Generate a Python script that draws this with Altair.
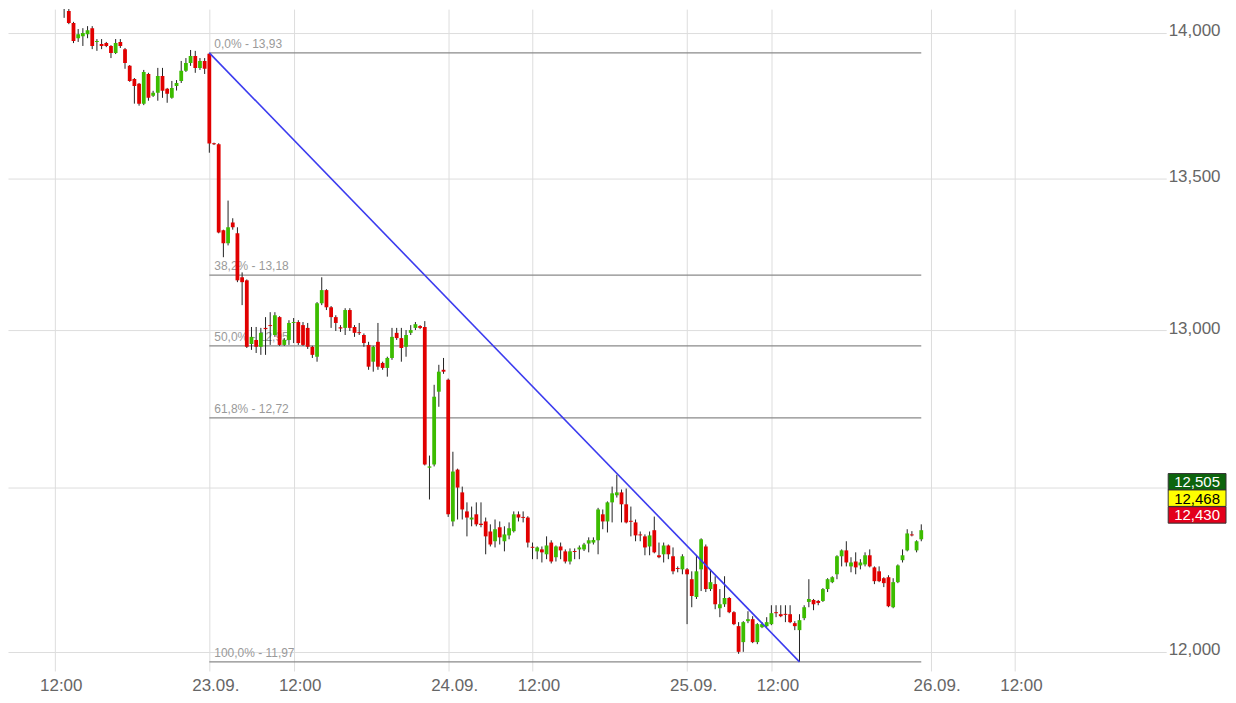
import altair as alt
import pandas as pd

# ---------------- data ----------------
FIRST_INDEX = -37  # candle index of the first candle (23.09. first candle = 0)

opens = [
    # 22.09. (partly above the visible range)
    14.14, 14.16, 14.13, 14.15, 14.14,
    14.13, 14.101, 14.076, 14.034, 13.981, 13.988, 13.995, 14.016, 13.968, 13.961,
    13.964, 13.954, 13.930, 13.968, 13.943, 13.885, 13.840, 13.823, 13.755, 13.857,
    13.782, 13.792, 13.850, 13.806, 13.775, 13.816, 13.833, 13.868, 13.895, 13.919,
    13.878, 13.902,
    # 23.09.
    13.927, 13.620, 13.617, 13.328, 13.285, 13.354, 13.318, 13.173, 13.163, 12.956,
    12.969, 12.947, 13.008, 13.017, 12.985, 13.043, 12.953, 12.969, 13.024, 13.027,
    13.017, 13.008, 12.947, 12.915, 13.088, 13.131, 13.075, 13.043, 13.010, 13.008,
    13.066, 13.011, 12.994, 12.985, 12.953, 12.899, 12.963, 12.895, 12.879, 12.911,
    12.992, 12.975, 12.947, 12.992, 13.008, 13.014, 13.011, 12.563, 12.573, 12.803,
    12.873,
    # 24.09.
    12.841, 12.396, 12.557, 12.486, 12.427, 12.402, 12.418, 12.389, 12.396, 12.365,
    12.335, 12.378, 12.335, 12.353, 12.366, 12.418, 12.410, 12.408, 12.318, 12.304,
    12.310, 12.295, 12.331, 12.286, 12.319, 12.304, 12.273, 12.305, 12.310, 12.310,
    12.328, 12.331, 12.338, 12.418, 12.396, 12.455, 12.477, 12.486, 12.449, 12.398,
    12.393, 12.356, 12.350, 12.319, 12.369, 12.292, 12.295, 12.322, 12.289, 12.253,
    12.249,
    # 25.09.
    12.249, 12.219, 12.165, 12.249, 12.319, 12.189, 12.204, 12.131, 12.143, 12.162,
    12.119, 12.077, 12.029, 12.092, 12.098, 12.029, 12.074, 12.077, 12.083, 12.119,
    12.113, 12.114, 12.113, 12.086, 12.065, 12.101, 12.150, 12.156, 12.153, 12.153,
    12.189, 12.210, 12.234, 12.289, 12.307, 12.258, 12.273, 12.261, 12.264, 12.292,
    12.255, 12.243, 12.222, 12.225, 12.134, 12.210, 12.277, 12.307, 12.356, 12.307,
    12.341,
]

highs = [
    14.18, 14.19, 14.17, 14.18, 14.16,
    14.15, 14.104, 14.104, 14.038, 14.013, 14.016, 14.023, 14.023, 13.978, 13.978,
    13.968, 13.957, 13.978, 13.978, 13.947, 13.888, 13.843, 13.826, 13.871, 13.861,
    13.799, 13.878, 13.878, 13.809, 13.833, 13.836, 13.902, 13.912, 13.940, 13.937,
    13.912, 13.912,
    13.930, 13.622, 13.620, 13.330, 13.427, 13.368, 13.338, 13.189, 13.166, 13.011,
    13.011, 13.008, 13.043, 13.059, 13.059, 13.046, 12.975, 13.033, 13.040, 13.033,
    13.027, 13.024, 12.950, 13.092, 13.173, 13.134, 13.079, 13.049, 13.017, 13.072,
    13.072, 13.017, 13.024, 12.990, 12.963, 12.950, 13.024, 12.899, 12.915, 13.008,
    13.008, 13.008, 13.001, 13.017, 13.027, 13.017, 13.030, 12.601, 12.825, 12.889,
    12.911,
    12.845, 12.613, 12.560, 12.504, 12.455, 12.442, 12.455, 12.455, 12.408, 12.387,
    12.402, 12.396, 12.381, 12.393, 12.427, 12.427, 12.427, 12.412, 12.331, 12.319,
    12.319, 12.350, 12.338, 12.322, 12.331, 12.310, 12.313, 12.313, 12.322, 12.330,
    12.347, 12.347, 12.438, 12.433, 12.458, 12.504, 12.541, 12.495, 12.498, 12.442,
    12.402, 12.365, 12.356, 12.365, 12.411, 12.331, 12.331, 12.325, 12.316, 12.258,
    12.295,
    12.253, 12.243, 12.292, 12.344, 12.325, 12.249, 12.228, 12.189, 12.228, 12.165,
    12.122, 12.089, 12.092, 12.122, 12.107, 12.086, 12.089, 12.104, 12.140, 12.140,
    12.140, 12.140, 12.140, 12.092, 12.113, 12.140, 12.219, 12.159, 12.156, 12.192,
    12.222, 12.228, 12.292, 12.310, 12.335, 12.286, 12.301, 12.280, 12.301, 12.310,
    12.258, 12.258, 12.225, 12.231, 12.222, 12.264, 12.310, 12.372, 12.366, 12.338,
    12.387,
]

lows = [
    14.097, 14.098, 14.12, 14.12, 14.115,
    14.085, 14.052, 14.030, 13.964, 13.968, 13.954, 13.981, 13.943, 13.937, 13.943,
    13.950, 13.912, 13.926, 13.947, 13.875, 13.830, 13.755, 13.748, 13.750, 13.765,
    13.778, 13.765, 13.775, 13.758, 13.772, 13.800, 13.826, 13.864, 13.885, 13.861,
    13.871, 13.857,
    13.588, 13.614, 13.318, 13.239, 13.278, 13.330, 13.157, 13.082, 12.943, 12.937,
    12.927, 12.921, 12.921, 12.953, 12.979, 12.950, 12.950, 12.953, 12.959, 12.953,
    12.950, 12.940, 12.911, 12.899, 13.082, 13.066, 13.008, 12.998, 12.995, 12.985,
    12.998, 12.979, 12.985, 12.947, 12.873, 12.867, 12.873, 12.873, 12.851, 12.905,
    12.969, 12.899, 12.915, 12.985, 13.001, 13.004, 12.570, 12.464, 12.567, 12.755,
    12.860,
    12.410, 12.381, 12.402, 12.402, 12.350, 12.381, 12.381, 12.378, 12.295, 12.319,
    12.316, 12.325, 12.304, 12.341, 12.362, 12.396, 12.393, 12.316, 12.280, 12.280,
    12.270, 12.280, 12.267, 12.273, 12.280, 12.267, 12.264, 12.280, 12.280, 12.305,
    12.301, 12.325, 12.295, 12.372, 12.362, 12.393, 12.470, 12.393, 12.390, 12.350,
    12.335, 12.335, 12.292, 12.292, 12.298, 12.283, 12.270, 12.280, 12.234, 12.240,
    12.234,
    12.083, 12.134, 12.159, 12.183, 12.180, 12.183, 12.128, 12.104, 12.135, 12.116,
    12.080, 11.994, 12.000, 12.086, 12.026, 12.023, 12.071, 12.074, 12.080, 12.104,
    12.104, 12.089, 12.086, 12.065, 11.970, 12.095, 12.134, 12.125, 12.140, 12.150,
    12.180, 12.207, 12.219, 12.258, 12.258, 12.240, 12.234, 12.249, 12.258, 12.255,
    12.204, 12.210, 12.195, 12.134, 12.131, 12.207, 12.270, 12.304, 12.350, 12.301,
    12.335,
]

closes = [
    14.16, 14.13, 14.15, 14.14, 14.13,
    14.090, 14.087, 14.034, 13.971, 13.995, 13.999, 14.009, 13.954, 13.971, 13.954,
    13.954, 13.930, 13.964, 13.954, 13.895, 13.833, 13.816, 13.755, 13.864, 13.775,
    13.792, 13.850, 13.799, 13.789, 13.809, 13.826, 13.868, 13.895, 13.919, 13.878,
    13.902, 13.875,
    13.619, 13.617, 13.321, 13.285, 13.338, 13.338, 13.163, 13.157, 12.947, 12.979,
    12.947, 12.992, 13.004, 13.014, 13.049, 12.953, 12.969, 13.024, 13.027, 12.959,
    12.953, 12.947, 12.921, 13.088, 13.131, 13.075, 13.043, 13.024, 13.006, 13.066,
    13.008, 12.992, 12.991, 12.959, 12.883, 12.947, 12.883, 12.879, 12.911, 12.979,
    12.975, 12.943, 12.985, 13.001, 13.020, 13.008, 12.573, 12.567, 12.787, 12.867,
    12.867,
    12.418, 12.551, 12.501, 12.433, 12.408, 12.408, 12.387, 12.385, 12.350, 12.325,
    12.372, 12.347, 12.356, 12.375, 12.418, 12.408, 12.407, 12.331, 12.315, 12.316,
    12.301, 12.322, 12.273, 12.319, 12.307, 12.273, 12.304, 12.302, 12.316, 12.325,
    12.338, 12.339, 12.433, 12.396, 12.455, 12.483, 12.486, 12.449, 12.393, 12.395,
    12.353, 12.353, 12.316, 12.353, 12.301, 12.286, 12.322, 12.295, 12.243, 12.250,
    12.289,
    12.234, 12.168, 12.243, 12.341, 12.189, 12.210, 12.143, 12.143, 12.162, 12.119,
    12.083, 12.000, 12.089, 12.098, 12.029, 12.083, 12.083, 12.089, 12.116, 12.116,
    12.107, 12.111, 12.089, 12.077, 12.095, 12.134, 12.159, 12.143, 12.147, 12.189,
    12.219, 12.225, 12.289, 12.307, 12.270, 12.270, 12.255, 12.270, 12.292, 12.258,
    12.213, 12.213, 12.207, 12.137, 12.210, 12.261, 12.292, 12.359, 12.353, 12.335,
    12.369,
]

assert len(opens) == len(highs) == len(lows) == len(closes)

# x axis: candle index of the tick and its label
tick_index = [-33, 0, 18, 51, 69, 102, 120, 154, 172]
tick_labels = ["12:00", "23.09.", "12:00", "24.09.", "12:00", "25.09.", "12:00", "26.09.", "12:00"]

# y axis ticks
y_ticks = [12.0, 12.5, 13.0, 13.5, 14.0]

# Fibonacci retracement
fib_levels = [0.0, 38.2, 50.0, 61.8, 100.0]
fib_prices = [13.93, 13.18, 12.95, 12.72, 11.97]
fib_start_index = 0
fib_end_index = 152

# trend line (high -> low)
trend_index = [0, 126]
trend_price = [13.93, 11.97]

# price boxes on the right
box_values = [12.505, 12.468, 12.430]
box_fills = ["#0d640d", "#ffff00", "#e3001b"]
box_text_colors = ["#ffffff", "#000000", "#ffffff"]

# ---------------- build ----------------
RED = "#e10000"
GREEN = "#3cbc00"
FONT = "Liberation Sans"

candles = pd.DataFrame({
    "i": list(range(FIRST_INDEX, FIRST_INDEX + len(opens))),
    "o": opens, "h": highs, "l": lows, "c": closes,
})
candles["dir"] = ["up" if c >= o else "down" for o, c in zip(opens, closes)]

fib = pd.DataFrame({
    "p": fib_prices,
    "x0": [fib_start_index] * len(fib_prices),
    "x1": [fib_end_index] * len(fib_prices),
    "label": [f"{lv:.1f}".replace(".", ",") + "% - " + f"{p:.2f}".replace(".", ",")
              for lv, p in zip(fib_levels, fib_prices)],
})
trend = pd.DataFrame({"i": trend_index, "p": trend_price})

x_label_expr = " : ".join(
    f"abs(datum.value - ({v})) < 0.01 ? '{t}'" for v, t in zip(tick_index, tick_labels)
) + " : ''"

XS = alt.Scale(domain=[-41.92, 203.23], nice=False, zero=False)
YS = alt.Scale(type="log", domain=[11.943, 14.0826], nice=False, zero=False)
XA = alt.Axis(orient="bottom", values=tick_index, labelExpr=x_label_expr, grid=True,
              gridColor="#dddddd", gridWidth=1, domain=False, ticks=False,
              labelPadding=7, labelFontSize=17, labelColor="#666666", labelFont=FONT,
              labelOffset=6, labelFlush=False, labelOverlap=False, title=None)
YA = alt.Axis(orient="right", values=y_ticks,
              labelExpr="replace(format(datum.value, '.3f'), '.', ',')",
              grid=True, gridColor="#dddddd", gridWidth=1, domain=False, ticks=False,
              labelPadding=2, labelFontSize=17, labelColor="#666666", labelFont=FONT,
              labelOffset=-2, title=None)


def X(field):
    return alt.X(field, type="quantitative", scale=XS, axis=XA)


def Y(field):
    return alt.Y(field, type="quantitative", scale=YS, axis=YA)


fib_rules = alt.Chart(fib).mark_rule(color="#8a8a8a", strokeWidth=1.2).encode(
    x=X("x0"), x2="x1", y=Y("p"))
fib_text = alt.Chart(fib).mark_text(align="left", baseline="alphabetic", dx=5, dy=-5,
                                    fontSize=12, color="#9a9a9a", font=FONT).encode(
    x=X("x0"), y=Y("p"), text="label:N")

wicks = alt.Chart(candles).mark_rule(color="#222222", strokeWidth=1, clip=True).encode(
    x=X("i"), y=Y("l"), y2="h")
bodies = alt.Chart(candles).mark_bar(size=3.8, clip=True).encode(
    x=X("i"), y=Y("o"), y2="c",
    color=alt.Color("dir:N", scale=alt.Scale(domain=["up", "down"], range=[GREEN, RED]),
                    legend=None))

trend_line = alt.Chart(trend).mark_line(color="#3b3bef", strokeWidth=1.6).encode(
    x=X("i"), y=Y("p"))

layers = [fib_rules, fib_text, wicks, bodies, trend_line]

box_offsets = [-4.5, 0, 4.5]
for v, f, tc, off in zip(box_values, box_fills, box_text_colors, box_offsets):
    bd = pd.DataFrame({"v": [v], "t": [f"{v:.3f}".replace(".", ",")]})
    layers.append(alt.Chart(bd).mark_point(
        shape="M-1,-0.285H1V0.285H-1Z", size=58 * 58, filled=True, fill=f, opacity=1,
        stroke="#333333", strokeWidth=1, yOffset=off).encode(
        x=alt.value(1193), y=Y("v")))
    layers.append(alt.Chart(bd).mark_text(
        fontSize=15, font=FONT, color=tc, baseline="middle", align="center",
        yOffset=off + 0.5).encode(
        x=alt.value(1193), y=Y("v"), text="t:N"))

chart = alt.layer(*layers).properties(
    width=1162, height=664,
    padding={"left": 0, "top": 0, "right": 0, "bottom": 0},
    background="white",
).configure_view(stroke=None)

chart.save("out.html", embed_options={"renderer": "svg", "actions": False})
